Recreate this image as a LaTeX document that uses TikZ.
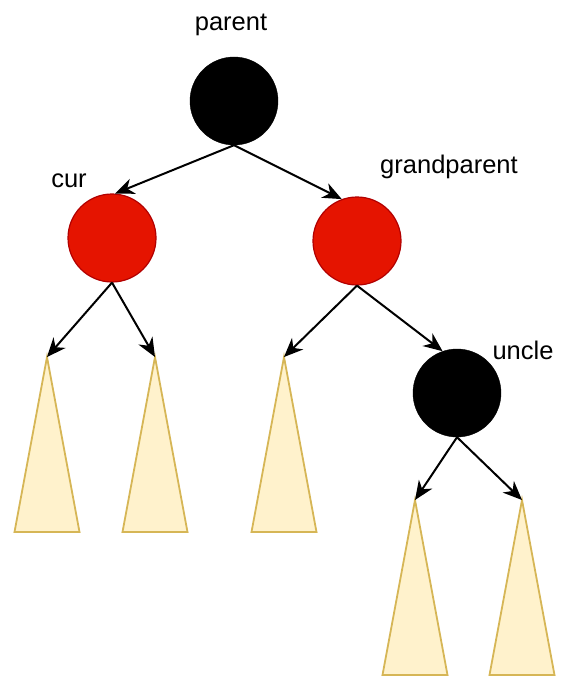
\documentclass[tikz,border=0pt]{standalone}
\usepackage{fontspec}
\setmainfont{Liberation Sans}
\usetikzlibrary{arrows.meta}
\definecolor{cRed}{HTML}{E51400}
\definecolor{cRedLine}{HTML}{B20000}
\definecolor{cTree}{HTML}{FFF2CC}
\definecolor{cTreeLine}{HTML}{D6B656}
\tikzset{
  blknode/.style={circle,fill=black,draw=black,minimum size=88pt,inner sep=0pt},
  rednode/.style={circle,fill=cRed,draw=cRedLine,line width=1.2pt,minimum size=88pt,inner sep=0pt},
  link/.style={-{Stealth[length=19pt,width=16pt,inset=6pt]},line width=2pt},
  subtree/.style={fill=cTree,draw=cTreeLine,line width=1.8pt},
  lbl/.style={font=\fontsize{25.5}{30}\selectfont,inner sep=0pt,anchor=base}
}

\begin{document}
\begin{tikzpicture}[x=1pt,y=-1pt]
\useasboundingbox (0,0) rectangle (583,685);
% circles
\node[blknode] (parent) at (234,101) {};
\node[rednode] (cur) at (112,238) {};
\node[rednode] (grandparent) at (357,241) {};
\node[blknode] (uncle) at (457,393) {};
% labels
\node[lbl] (parentlbl) at (231,31) {parent};
\node[lbl] (curlbl) at (69,187) {cur};
\node[lbl] (grandparentlbl) at (449,173) {grandparent};
\node[lbl] (unclelbl) at (523,359) {uncle};
% subtrees
\coordinate (t1) at (47,357);
\draw[subtree] (t1) -- ++(32.5,175) -- ++(-65,0) -- cycle;
\coordinate (t2) at (155,357);
\draw[subtree] (t2) -- ++(32.5,175) -- ++(-65,0) -- cycle;
\coordinate (t3) at (284,357);
\draw[subtree] (t3) -- ++(32.5,175) -- ++(-65,0) -- cycle;
\coordinate (t4) at (415,500);
\draw[subtree] (t4) -- ++(32.5,175) -- ++(-65,0) -- cycle;
\coordinate (t5) at (522,500);
\draw[subtree] (t5) -- ++(32.5,175) -- ++(-65,0) -- cycle;
% edges
\draw[link] (parent.south) -- (cur.86);
\draw[link] (parent.south) -- (grandparent.110);
\draw[link] (cur.south) -- (t1);
\draw[link] (cur.south) -- (t2);
\draw[link] (grandparent.south) -- (t3);
\draw[link] (grandparent.south) -- (uncle.109);
\draw[link] (uncle.south) -- (t4);
\draw[link] (uncle.south) -- (t5);
\end{tikzpicture}
\end{document}
